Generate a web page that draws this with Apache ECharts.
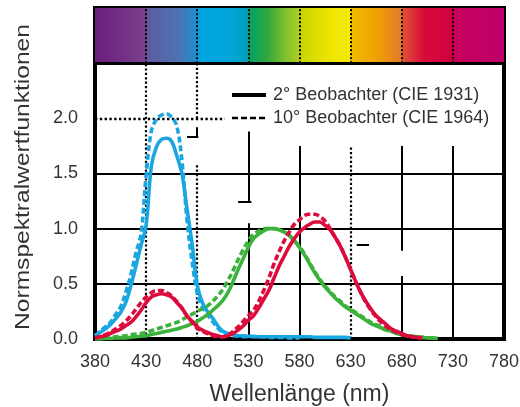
<!DOCTYPE html>
<html>
<head>
<meta charset="utf-8">
<script src="https://cdn.jsdelivr.net/npm/echarts@6/dist/echarts.min.js"></script>
<style>
  html, body { margin: 0; padding: 0; background: #fff; }
  #chart { width: 520px; height: 407px; }
</style>
</head>
<body>
<div id="chart"></div>
<script>
// Wavelength samples (nm)
const wavelengths = [
  380, 385, 390, 395, 400, 405, 410, 415, 420, 425, 430, 435, 440, 445, 450, 455, 460, 465,
  470, 475, 480, 485, 490, 495, 500, 505, 510, 515, 520, 525, 530, 535, 540, 545, 550, 555,
  560, 565, 570, 575, 580, 585, 590, 595, 600, 605, 610, 615, 620, 625, 630, 635, 640, 645,
  650, 655, 660, 665, 670, 675, 680, 685, 690, 695, 700, 705, 710, 715, 720, 725, 730
];

// z-bar (blue), 2° observer CIE 1931
const zBar2 = [
  0.03, 0.06, 0.09, 0.13, 0.18, 0.24, 0.33, 0.48, 0.66, 0.85, 1.03, 1.56, 1.74, 1.81, 1.82, 1.79, 1.66, 1.50,
  1.18, 0.86, 0.49, 0.33, 0.25, 0.19, 0.12, 0.07, 0.05, 0.04, 0.03, 0.03, 0.025, 0.025, 0.02, 0.02, 0.02, 0.02,
  0.02, 0.02, 0.02, 0.02, 0.02, 0.02, 0.02, 0.015, 0.015, 0.015, 0.015, 0.015, 0.015, 0.015, 0.01, null, null, null,
  null, null, null, null, null, null, null, null, null, null, null, null, null, null, null, null, null
];
// z-bar (blue), 10° observer CIE 1964
const zBar10 = [
  0.03, 0.07, 0.11, 0.15, 0.22, 0.29, 0.42, 0.58, 0.78, 0.95, 1.48, 1.88, 1.99, 2.03, 2.04, 2.01, 1.93, 1.62,
  1.08, 0.70, 0.42, 0.29, 0.22, 0.16, 0.10, 0.055, 0.04, 0.03, 0.025, 0.02, 0.02, 0.02, 0.02, 0.02, 0.015, 0.015,
  0.015, 0.015, 0.01, 0.01, 0.01, null, null, null, null, null, null, null, null, null, null, null, null, null,
  null, null, null, null, null, null, null, null, null, null, null, null, null, null, null, null, null
];
// y-bar (green), 2° observer CIE 1931
const yBar2 = [
  0, 0, 0.005, 0.005, 0.01, 0.01, 0.01, 0.015, 0.02, 0.025, 0.03, 0.04, 0.05, 0.06, 0.07, 0.08, 0.09, 0.105,
  0.12, 0.14, 0.16, 0.19, 0.22, 0.26, 0.30, 0.35, 0.42, 0.52, 0.63, 0.73, 0.83, 0.91, 0.95, 0.98, 1.0, 1.0,
  0.99, 0.97, 0.94, 0.89, 0.83, 0.76, 0.68, 0.60, 0.53, 0.47, 0.42, 0.37, 0.33, 0.29, 0.26, 0.23, 0.20, 0.17,
  0.14, 0.12, 0.10, 0.08, 0.07, 0.05, 0.04, 0.03, 0.025, 0.02, 0.015, 0.01, 0.01, 0.005, null, null, null
];
// y-bar (green), 10° observer CIE 1964
const yBar10 = [
  0, 0.005, 0.01, 0.015, 0.02, 0.025, 0.03, 0.04, 0.045, 0.05, 0.06, 0.075, 0.09, 0.105, 0.12, 0.135, 0.15, 0.175,
  0.20, 0.225, 0.25, 0.275, 0.30, 0.34, 0.39, 0.45, 0.53, 0.62, 0.72, 0.81, 0.89, 0.95, 0.98, 1.0, 1.0, 1.0,
  0.99, 0.97, 0.94, 0.89, 0.84, 0.77, 0.69, 0.61, 0.54, 0.48, 0.43, 0.38, 0.34, 0.30, 0.27, 0.24, 0.21, 0.18,
  0.15, 0.13, 0.11, 0.09, 0.07, 0.055, 0.04, 0.03, 0.025, 0.02, 0.015, 0.01, 0.01, 0.005, null, null, null
];
// x-bar (red), 2° observer CIE 1931
const xBar2 = [
  0.01, 0.02, 0.03, 0.05, 0.07, 0.09, 0.12, 0.15, 0.20, 0.26, 0.33, 0.38, 0.40, 0.41, 0.40, 0.38, 0.33, 0.28,
  0.21, 0.16, 0.11, 0.08, 0.06, 0.04, 0.03, 0.02, 0.03, 0.05, 0.08, 0.12, 0.17, 0.21, 0.28, 0.36, 0.44, 0.55,
  0.66, 0.75, 0.84, 0.91, 0.97, 1.01, 1.04, 1.06, 1.06, 1.03, 0.99, 0.92, 0.84, 0.74, 0.63, 0.52, 0.42, 0.34,
  0.27, 0.21, 0.17, 0.13, 0.09, 0.07, 0.05, 0.03, 0.02, 0.015, 0.01, null, null, null, null, null, null
];
// x-bar (red), 10° observer CIE 1964
const xBar10 = [
  0.01, 0.02, 0.04, 0.06, 0.09, 0.12, 0.16, 0.21, 0.27, 0.33, 0.38, 0.42, 0.44, 0.44, 0.42, 0.39, 0.34, 0.28,
  0.21, 0.15, 0.10, 0.07, 0.05, 0.03, 0.02, 0.02, 0.03, 0.07, 0.11, 0.16, 0.21, 0.26, 0.34, 0.44, 0.55, 0.68,
  0.79, 0.89, 0.97, 1.04, 1.08, 1.12, 1.13, 1.13, 1.11, 1.07, 1.00, 0.92, 0.84, 0.74, 0.63, 0.52, 0.42, 0.33,
  0.26, 0.20, 0.15, 0.11, 0.08, 0.06, 0.04, 0.03, 0.02, 0.01, 0.01, null, null, null, null, null, null
];

// Axis ticks
const xTicks = [380, 430, 480, 530, 580, 630, 680, 730, 780];
const yTicks = [0, 0.5, 1.0, 1.5, 2.0];

const legendNames = ['2° Beobachter (CIE 1931)', '10° Beobachter (CIE 1964)'];

const FONT = '"Liberation Sans", Arial, Helvetica, sans-serif';
const BLUE = '#1aa6e0';
const GREEN = '#3cb23c';
const RED = '#dc0b3c';
const DASH = [6, 3];

const Y_MAX = 3.0;       // top of the colour strip
const STRIP_BASE = 2.5;  // bottom of the colour strip

function pairs(values) {
  const out = [];
  wavelengths.forEach((w, i) => { if (values[i] != null) out.push([w, values[i]]); });
  return out;
}

function curve(name, values, color, dashed) {
  return {
    name: name,
    type: 'line',
    data: pairs(values),
    smooth: 0.35,
    symbol: 'none',
    z: 5,
    lineStyle: { color: color, width: 3.6, type: dashed ? DASH : 'solid', cap: 'butt' },
    itemStyle: { color: color },
    emphasis: { disabled: true },
    animation: false
  };
}

// Colour strip above the plot: a stepped spectrum, one panel per 50 nm
const spectrumStops = [
  [380, '#6a1d7e'], [429.8, '#7b408d'],
  [430.2, '#605aa0'], [462, '#4a74b4'], [479.8, '#1e8ed0'],
  [480.2, '#00a3e0'], [512, '#00a6dc'], [529.8, '#009fb4'],
  [530.2, '#00a56c'], [548, '#2ea63c'], [565, '#7cbd30'], [579.8, '#afcf22'],
  [580.2, '#c8d500'], [612, '#efe600'], [629.8, '#f6ea00'],
  [630.2, '#f1bb00'], [655, '#f0a200'], [679.8, '#e17a2c'],
  [680.2, '#de5532'], [702, '#d70a3a'], [729.8, '#d0003f'],
  [730.2, '#c8005a'], [780, '#bf006b']
];
const stripGradient = new echarts.graphic.LinearGradient(0, 0, 1, 0,
  spectrumStops.map(s => ({ offset: (s[0] - 380) / 400, color: s[1] })));

// Grid rules inside the plot (vertical pieces, with the breaks of the printed grid)
function seg(x1, y1, x2, y2, type, width) {
  return [{ coord: [x1, y1], lineStyle: { type: type, width: width } }, { coord: [x2, y2] }];
}
const gridSegments = [
  seg(430, 0, 430, STRIP_BASE, 'dotted', 2.2),
  seg(480, 0, 480, 1.59, 'dotted', 2.2),
  seg(480, 1.83, 480, 1.92, 'solid', 2),
  seg(480, 2.0, 480, STRIP_BASE, 'dotted', 2.2),
  seg(470, 1.83, 481, 1.83, 'solid', 2),
  seg(530, 0, 530, 1.05, 'solid', 2),
  seg(530, 1.24, 530, 1.88, 'solid', 2),
  seg(520, 1.24, 533, 1.24, 'solid', 2),
  seg(580, 0, 580, 1.75, 'solid', 2),
  seg(630, 0, 630, 1.75, 'dotted', 2.2),
  seg(636, 0.85, 648, 0.85, 'solid', 2),
  seg(680, 0, 680, 0.57, 'solid', 2),
  seg(680, 0.80, 680, 1.75, 'solid', 2),
  seg(730, 0, 730, 1.75, 'solid', 2),
  // dotted 2.0 rule on the left part only
  seg(380, 2.0, 507, 2.0, 'dotted', 2.4),
  // heavy rule under the colour strip
  seg(380, STRIP_BASE, 780, STRIP_BASE, 'solid', 3)
];
// dotted dividers inside the colour strip
xTicks.slice(1, -1).forEach(t => gridSegments.push(seg(t, STRIP_BASE, t, Y_MAX, 'dotted', 2)));

const chart = echarts.init(document.getElementById('chart'), null, { renderer: 'canvas' });

const option = {
  backgroundColor: '#ffffff',
  animation: false,
  textStyle: { fontFamily: FONT },
  grid: {
    left: 95, right: 16, top: 8, bottom: 68,
    outerBoundsMode: 'none',
    containLabel: false,
    show: true, borderColor: '#000', borderWidth: 4, backgroundColor: 'transparent'
  },
  legend: {
    data: [
      { name: legendNames[0], lineStyle: { color: '#000', width: 4, type: 'solid' } },
      { name: legendNames[1], lineStyle: { color: '#000', width: 2.5, type: DASH } }
    ],
    orient: 'vertical',
    left: 225, top: 81,
    itemWidth: 34, itemHeight: 14, itemGap: 5,
    itemStyle: { color: 'transparent', borderColor: 'transparent', borderWidth: 0, opacity: 0 },
    textStyle: { fontFamily: FONT, fontSize: 18, color: '#333', padding: [0, 0, 0, 2] },
    selectedMode: false
  },
  xAxis: {
    type: 'value',
    min: 380, max: 780, interval: 50,
    axisLine: { show: false },
    axisTick: { show: false },
    splitLine: { show: false },
    axisLabel: {
      fontFamily: FONT, fontSize: 18, color: '#333', margin: 14,
      formatter: v => (xTicks.indexOf(v) >= 0 ? String(v) : '')
    },
    name: 'Wellenlänge (nm)',
    nameLocation: 'middle',
    nameGap: 44,
    nameTextStyle: { fontFamily: FONT, fontSize: 23, color: '#333' }
  },
  yAxis: {
    type: 'value',
    min: 0, max: Y_MAX, interval: 0.5,
    axisLine: { show: false },
    axisTick: { show: false },
    axisLabel: {
      fontFamily: FONT, fontSize: 18, color: '#333', margin: 17,
      formatter: v => (yTicks.some(t => Math.abs(t - v) < 1e-9) ? v.toFixed(1) : '')
    },
    splitLine: {
      show: true,
      lineStyle: {
        color: ['transparent', '#000', '#000', '#000', 'transparent', 'transparent', 'transparent'],
        width: 2
      }
    }
  },
  graphic: [{
    type: 'text',
    x: 23, y: 177,
    rotation: Math.PI / 2,
    scaleX: 1.17,
    style: {
      text: 'Normspektralwertfunktionen',
      font: '21px ' + FONT,
      fill: '#333',
      align: 'center',
      verticalAlign: 'middle'
    },
    silent: true
  }],
  series: [
    {
      type: 'line', data: [], silent: true, z: 1,
      markArea: {
        silent: true,
        itemStyle: { color: stripGradient, opacity: 1 },
        data: [[{ coord: [380, STRIP_BASE] }, { coord: [780, Y_MAX] }]]
      }
    },
    {
      type: 'line', data: [], silent: true, z: 2,
      markLine: {
        silent: true,
        symbol: ['none', 'none'],
        label: { show: false },
        lineStyle: { color: '#000', width: 2 },
        emphasis: { disabled: true },
        data: gridSegments
      }
    },
    curve('zBar2', zBar2, BLUE, false),
    curve('zBar10', zBar10, BLUE, true),
    curve('yBar2', yBar2, GREEN, false),
    curve('yBar10', yBar10, GREEN, true),
    curve('xBar2', xBar2, RED, false),
    curve('xBar10', xBar10, RED, true),
    {
      name: legendNames[0], type: 'line', data: [], symbol: 'none',
      lineStyle: { color: '#000', width: 4 }, itemStyle: { color: 'transparent' }
    },
    {
      name: legendNames[1], type: 'line', data: [], symbol: 'none',
      lineStyle: { color: '#000', width: 2.5, type: DASH }, itemStyle: { color: 'transparent' }
    }
  ]
};

chart.setOption(option);
</script>
</body>
</html>
